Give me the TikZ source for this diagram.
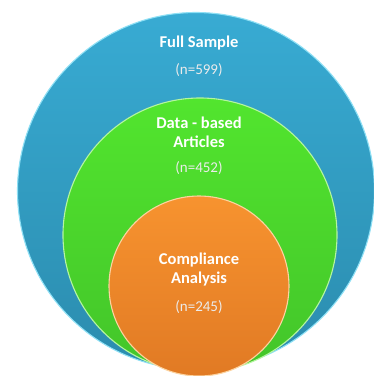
\documentclass[tikz,border=0pt]{standalone}
\usepackage{fontspec}
\setmainfont{Carlito}
\definecolor{bluetop}{HTML}{38ABD3}
\definecolor{bluebot}{HTML}{2B8CAE}
\definecolor{bluerim}{HTML}{8EE0F5}
\definecolor{greentop}{HTML}{52E52E}
\definecolor{greenbot}{HTML}{43C52A}
\definecolor{greenrim}{HTML}{B5F5A0}
\definecolor{orangetop}{HTML}{F7932F}
\definecolor{orangebot}{HTML}{E17A24}
\definecolor{orangerim}{HTML}{FCD3A0}
\begin{document}
\begin{tikzpicture}[x=1pt,y=-1pt,
  ring/.style={circle, inner sep=0pt, line width=1.1pt},
  title/.style={text=white, font=\bfseries\fontsize{16.5}{19}\selectfont, align=center},
  count/.style={text=white!92!black, font=\fontsize{15}{17}\selectfont}]
\useasboundingbox (0,0) rectangle (374,376);
\fill[white] (0,0) rectangle (374,376);
\node[ring, minimum size=357pt, draw=bluerim, top color=bluetop, bottom color=bluebot] (full) at (196,191) {};
\node[ring, minimum size=274pt, draw=greenrim, top color=greentop, bottom color=greenbot] (data) at (200,235) {};
\node[ring, minimum size=180pt, draw=orangerim, top color=orangetop, bottom color=orangebot] (comp) at (199,286) {};
\node[title] (t1) at (199,43) {Full Sample};
\node[count] (n1) at (199,70) {(n=599)};
\node[title] (t2) at (199,132) {Data - based\\Articles};
\node[count] (n2) at (199,168) {(n=452)};
\node[title] (t3) at (199,270) {Compliance\\Analysis};
\node[count] (n3) at (199,307) {(n=245)};
\end{tikzpicture}
\end{document}
